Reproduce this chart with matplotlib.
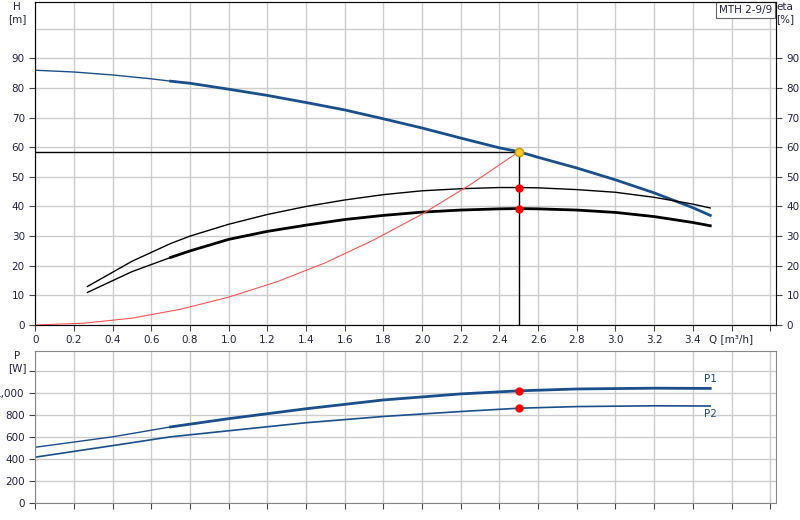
import matplotlib
matplotlib.use("Agg")
import matplotlib.pyplot as plt
import numpy as np

q_h = [0, 0.2, 0.4, 0.6, 0.7, 0.8, 1.0, 1.2, 1.4, 1.6, 1.8, 2.0, 2.2, 2.4, 2.5, 2.6, 2.8, 3.0, 3.2, 3.4, 3.49]
h = [86, 85.4, 84.4, 83.1, 82.3, 81.6, 79.6, 77.5, 75.1, 72.6, 69.6, 66.5, 63.1, 59.8, 58.5, 56.6, 53.0, 49.0, 44.6, 39.6, 37.0]
q_e = [0.27, 0.5, 0.7, 0.8, 1.0, 1.2, 1.4, 1.6, 1.8, 2.0, 2.2, 2.4, 2.5, 2.6, 2.8, 3.0, 3.2, 3.4, 3.49]
eta_p = [13, 21.5, 27.5, 30, 34, 37.3, 40, 42.2, 44, 45.3, 46, 46.4, 46.4, 46.3, 45.7, 44.8, 43.1, 40.8, 39.5]
eta_t = [11, 18, 22.8, 25, 28.9, 31.6, 33.7, 35.6, 37, 38.1, 38.8, 39.2, 39.3, 39.2, 38.8, 38.0, 36.6, 34.6, 33.5]
q_s = [0, 0.25, 0.5, 0.75, 1.0, 1.25, 1.5, 1.75, 2.0, 2.25, 2.5]
h_s = [0, 0.6, 2.3, 5.3, 9.4, 14.6, 21.0, 28.7, 37.4, 47.4, 58.5]
q_p = [0, 0.4, 0.7, 1.0, 1.4, 1.8, 2.2, 2.5, 2.8, 3.2, 3.49]
p1 = [505, 600, 690, 765, 855, 935, 990, 1018, 1035, 1042, 1040]
p2 = [415, 520, 600, 655, 728, 785, 830, 860, 875, 882, 880]
q_op, h_op, e_op1, e_op2, p1_op, p2_op = 2.5, 58.5, 46.4, 39.3, 1018, 860
xticks = [0, 0.2, 0.4, 0.6, 0.8, 1.0, 1.2, 1.4, 1.6, 1.8, 2.0, 2.2, 2.4, 2.6, 2.8, 3.0, 3.2, 3.4]

blue = "#1a4f8a"
tc = "#222244"
fs = 7.5
fig = plt.figure(figsize=(8, 5.2), dpi=100)
ax = fig.add_axes([0.044, 0.375, 0.926, 0.621])
axp = fig.add_axes([0.044, 0.033, 0.926, 0.292])

def split(q, v, cut=0.7):
    q = np.array(q); v = np.array(v)
    a = q <= cut
    return q[a], v[a], q[q >= cut], v[q >= cut]

for a in (ax, axp):
    a.set_xlim(0, 3.83)
    a.set_xticks(xticks + [3.6, 3.8])
    a.grid(True, color="#cccccc", lw=1)
    a.tick_params(colors="#444444", labelcolor=tc, labelsize=fs, length=4)
    for s in a.spines.values():
        s.set_color("#888888")
    a.set_axisbelow(True)

ax.set_xticklabels([f"{x:.1f}" if x > 0 else "0" for x in xticks] + ["", ""])
ax.set_ylim(0, 109)
ax.set_yticks(range(0, 100, 10))
ax.set_yticklabels([str(v) for v in range(0, 100, 10)])
ax.set_yticks([100], minor=True)
ax.grid(True, which="minor", color="#cccccc", lw=1)
ax.tick_params(which="minor", length=0)

qa, va, qb, vb = split(q_h, h)
ax.plot(qa, va, color=blue, lw=1)
ax.plot(qb, vb, color=blue, lw=2)
ax.plot(q_e, eta_p, color="black", lw=1)
qa, va, qb, vb = split(q_e, eta_t)
ax.plot(qa, va, color="black", lw=1)
ax.plot(qb, vb, color="black", lw=2)
ax.plot(q_s, h_s, color="#ff5555", lw=0.8)
ax.plot([0, q_op], [h_op, h_op], color="black", lw=1)
ax.plot([q_op, q_op], [0, h_op], color="black", lw=1)
ax.plot([q_op, q_op], [e_op1, e_op2], "o", color="red", ms=5)
ax.plot([q_op], [h_op], "o", color="#ffcc33", mec="#cc9900", ms=6)

ax2 = ax.twinx()
ax2.set_ylim(0, 109)
ax2.set_yticks(range(0, 100, 10))
ax2.tick_params(colors="#444444", labelcolor=tc, labelsize=fs, length=4)
ax2.text(1.0, 1.0, "eta\n[%]", transform=ax2.transAxes, ha="left", va="top", fontsize=fs, color=tc)
ax.text(-0.012, 1.0, "H\n[m]", transform=ax.transAxes, ha="right", va="top", fontsize=fs, color=tc, multialignment="center")
ax.text(3.6, -3.0, "Q [m³/h]", ha="center", va="top", fontsize=fs, color=tc)
ax.text(0.995, 0.99, "MTH 2-9/9", transform=ax.transAxes, ha="right", va="top", fontsize=fs, color=tc,
        bbox=dict(facecolor="white", edgecolor="#666666", lw=0.8, pad=2))

axp.set_xticklabels([])
axp.set_ylim(0, 1380)
axp.set_yticks(range(0, 1201, 200))
axp.set_yticklabels(["0", "200", "400", "600", "800", "1,000", ""])
qa, va, qb, vb = split(q_p, p1)
axp.plot(qa, va, color=blue, lw=1)
axp.plot(qb, vb, color=blue, lw=2)
axp.plot(q_p, p2, color=blue, lw=1.2)
axp.plot([q_op, q_op], [p1_op, p2_op], "o", color="red", ms=5)
axp.text(3.46, p1[-1] + 40, "P1", fontsize=fs, color=blue, va="bottom")
axp.text(3.46, p2[-1] - 30, "P2", fontsize=fs, color=blue, va="top")
axp.text(-0.012, 1.0, "P\n[W]", transform=axp.transAxes, ha="right", va="top", fontsize=fs, color=tc, multialignment="center")

fig.savefig("out.png", dpi=100)
